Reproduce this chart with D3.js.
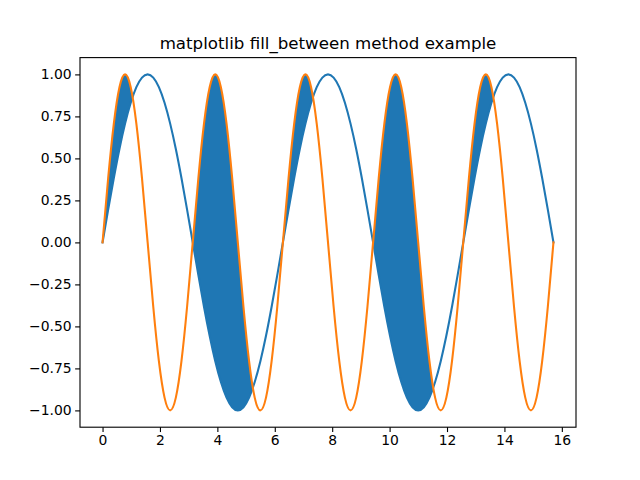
<!DOCTYPE html>
<html>
<head>
<meta charset="utf-8">
<script src="https://cdn.jsdelivr.net/npm/d3@7"></script>
<style>
  body { margin: 0; background: #fff; }
  svg { display: block; font-family: "DejaVu Sans", sans-serif; }
</style>
</head>
<body>
<figure style="margin:0"></figure>
<script>
// sample points
var xs = [0, 0.196, 0.393, 0.589, 0.785, 0.982, 1.178, 1.374, 1.571, 1.767, 1.963, 2.160, 2.356, 2.553, 2.749, 2.945,
          3.142, 3.338, 3.534, 3.731, 3.927, 4.123, 4.320, 4.516, 4.712, 4.909, 5.105, 5.301, 5.498, 5.694, 5.890, 6.087,
          6.283, 6.480, 6.676, 6.872, 7.069, 7.265, 7.461, 7.658, 7.854, 8.050, 8.247, 8.443, 8.639, 8.836, 9.032, 9.228,
          9.425, 9.621, 9.817, 10.014, 10.210, 10.407, 10.603, 10.799, 10.996, 11.192, 11.388, 11.585, 11.781, 11.977, 12.174, 12.370,
          12.566, 12.763, 12.959, 13.155, 13.352, 13.548, 13.744, 13.941, 14.137, 14.334, 14.530, 14.726, 14.923, 15.119, 15.315, 15.512,
          15.708];

var blue = [0, 0.195, 0.383, 0.556, 0.707, 0.831, 0.924, 0.981, 1, 0.981, 0.924, 0.831, 0.707, 0.556, 0.383, 0.195,
            0, -0.195, -0.383, -0.556, -0.707, -0.831, -0.924, -0.981, -1, -0.981, -0.924, -0.831, -0.707, -0.556, -0.383, -0.195,
            0, 0.195, 0.383, 0.556, 0.707, 0.831, 0.924, 0.981, 1, 0.981, 0.924, 0.831, 0.707, 0.556, 0.383, 0.195,
            0, -0.195, -0.383, -0.556, -0.707, -0.831, -0.924, -0.981, -1, -0.981, -0.924, -0.831, -0.707, -0.556, -0.383, -0.195,
            0, 0.195, 0.383, 0.556, 0.707, 0.831, 0.924, 0.981, 1, 0.981, 0.924, 0.831, 0.707, 0.556, 0.383, 0.195,
            0];

var orange = [0, 0.383, 0.707, 0.924, 1, 0.924, 0.707, 0.383, 0, -0.383, -0.707, -0.924, -1, -0.924, -0.707, -0.383,
              0, 0.383, 0.707, 0.924, 1, 0.924, 0.707, 0.383, 0, -0.383, -0.707, -0.924, -1, -0.924, -0.707, -0.383,
              0, 0.383, 0.707, 0.924, 1, 0.924, 0.707, 0.383, 0, -0.383, -0.707, -0.924, -1, -0.924, -0.707, -0.383,
              0, 0.383, 0.707, 0.924, 1, 0.924, 0.707, 0.383, 0, -0.383, -0.707, -0.924, -1, -0.924, -0.707, -0.383,
              0, 0.383, 0.707, 0.924, 1, 0.924, 0.707, 0.383, 0, -0.383, -0.707, -0.924, -1, -0.924, -0.707, -0.383,
              0];

var xTicks = [0, 2, 4, 6, 8, 10, 12, 14, 16];
var yTicks = [-1, -0.75, -0.5, -0.25, 0, 0.25, 0.5, 0.75, 1];
var title = "matplotlib fill_between method example";

var data = xs.map(function(x, i) { return {x: x, a: blue[i], b: orange[i]}; });

var W = 640, H = 480,
    margin = {top: 57.6, right: 64, bottom: 52.8, left: 80},
    width = W - margin.left - margin.right,
    height = H - margin.top - margin.bottom;

var svg = d3.select("figure").append("svg").attr("width", W).attr("height", H),
    g = svg.append("g").attr("transform", "translate(" + margin.left + "," + margin.top + ")");

var xPad = (xs[xs.length - 1] - xs[0]) * 0.05;
var x = d3.scaleLinear().domain([xs[0] - xPad, xs[xs.length - 1] + xPad]).range([0, width]);
var y = d3.scaleLinear().domain([-1.1, 1.1]).range([height, 0]);

var curve = d3.curveNatural;

// region above the blue curve, used to keep only where orange >= blue
g.append("defs").append("clipPath")
    .attr("id", "above")
  .append("path")
    .datum(data)
    .attr("d", d3.area().curve(curve)
        .x(function(d) { return x(d.x); })
        .y0(function(d) { return y(d.a); })
        .y1(-5));

g.append("path")
    .datum(data)
    .attr("clip-path", "url(#above)")
    .attr("fill", "#1f77b4")
    .attr("d", d3.area().curve(curve)
        .x(function(d) { return x(d.x); })
        .y0(function(d) { return y(d.a); })
        .y1(function(d) { return y(d.b); }));

var lineA = d3.line().curve(curve).x(function(d) { return x(d.x); }).y(function(d) { return y(d.a); });
var lineB = d3.line().curve(curve).x(function(d) { return x(d.x); }).y(function(d) { return y(d.b); });

g.append("path").datum(data).attr("d", lineA)
    .attr("fill", "none").attr("stroke", "#1f77b4").attr("stroke-width", 2.08).attr("stroke-linecap", "square");
g.append("path").datum(data).attr("d", lineB)
    .attr("fill", "none").attr("stroke", "#ff7f0e").attr("stroke-width", 2.08).attr("stroke-linecap", "square");

var xAxis = g.append("g")
    .attr("transform", "translate(0," + height + ")")
    .call(d3.axisBottom(x).tickValues(xTicks).tickSize(4.86).tickPadding(3.5).tickFormat(d3.format("d")));
var yAxis = g.append("g")
    .call(d3.axisLeft(y).tickValues(yTicks).tickSize(4.86).tickPadding(3.5).tickFormat(d3.format(".2f")));

[xAxis, yAxis].forEach(function(ax) {
  ax.select(".domain").remove();
  ax.selectAll(".tick line").attr("stroke", "#000").attr("stroke-width", 1.11);
  ax.selectAll(".tick text").attr("fill", "#000").style("font-size", "13.9px").style("font-family", "DejaVu Sans");
});

g.append("rect")
    .attr("width", width).attr("height", height)
    .attr("fill", "none").attr("stroke", "#000").attr("stroke-width", 1.11);

svg.append("text")
    .attr("x", margin.left + width / 2)
    .attr("y", margin.top - 8.3)
    .attr("text-anchor", "middle")
    .style("font-size", "16.67px")
    .text(title);
</script>
</body>
</html>
